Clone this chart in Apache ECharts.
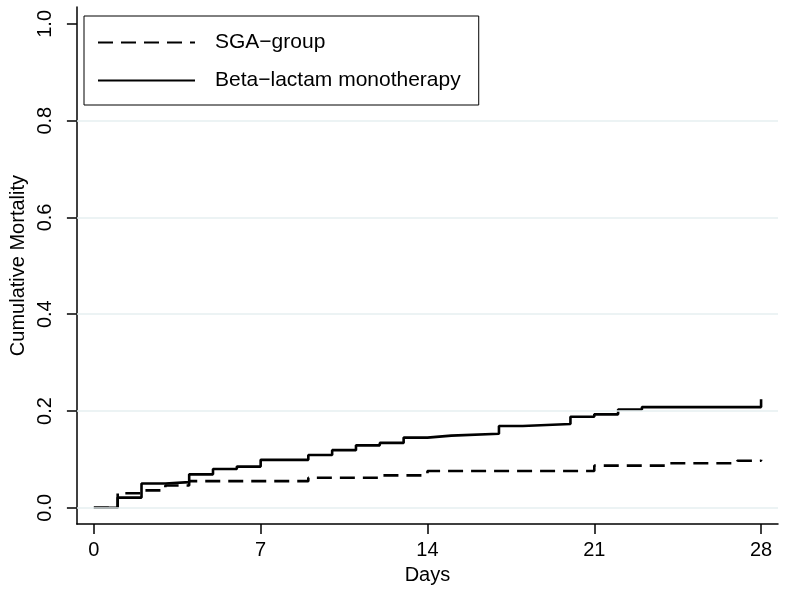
<!DOCTYPE html>
<html>
<head>
<meta charset="utf-8">
<script src="https://cdn.jsdelivr.net/npm/echarts@6/dist/echarts.min.js"></script>
<style>html,body{margin:0;padding:0;background:#fff}#c{width:789px;height:590px}</style>
</head>
<body>
<div id="c"></div>
<script>
const seriesNames = ['SGA\u2212group', 'Beta\u2212lactam monotherapy'];
const sgaDays = [0, 1, 2, 3, 4, 9, 12, 14, 21, 24, 27, 28];
const sgaValues = [0, 0.030, 0.036, 0.046, 0.055, 0.062, 0.067, 0.076, 0.087, 0.092, 0.097, 0.099];
const betaDays = [0, 1, 2, 3, 4, 5, 6, 7, 9, 10, 11, 12, 13, 14, 15, 17, 18, 20, 21, 22, 23, 28];
const betaValues = [0, 0.021, 0.050, 0.053, 0.069, 0.080, 0.085, 0.099, 0.109, 0.119, 0.129, 0.134, 0.145, 0.149, 0.153, 0.169, 0.173, 0.188, 0.193, 0.203, 0.208, 0.224];
const xTicks = [0, 7, 14, 21, 28];
const yTicks = [0, 0.2, 0.4, 0.6, 0.8, 1.0];
const yGridValues = [0, 0.2, 0.4, 0.6, 0.8];

const FONT = 'Liberation Sans, Arial, Helvetica, sans-serif';
const chart = echarts.init(document.getElementById('c'), null, {renderer: 'canvas'});
const pair = (xs, ys) => xs.map((x, i) => [x, ys[i]]);

chart.setOption({
  animation: false,
  backgroundColor: '#fff',
  grid: {left: 75, right: 11, top: 7, bottom: 62, containLabel: false},
  legend: {
    data: seriesNames,
    orient: 'vertical',
    left: 84, top: 16,
    padding: [16, 18, 14, 13],
    itemWidth: 97, itemHeight: 20, itemGap: 17,
    borderColor: '#000', borderWidth: 1, backgroundColor: '#fff',
    itemStyle: {opacity: 0},
    textStyle: {fontFamily: FONT, fontSize: 21, color: '#000', padding: [0, 0, 0, 15]},
    z: 10
  },
  xAxis: {
    type: 'value', min: -0.7115, max: 28.71,
    name: 'Days', nameLocation: 'middle', nameGap: 35,
    nameTextStyle: {fontFamily: FONT, fontSize: 20, color: '#000'},
    axisLine: {show: true, onZero: false, lineStyle: {color: '#000', width: 1.5}},
    axisTick: {show: true, length: 10, lineStyle: {color: '#000', width: 1.5}, customValues: xTicks},
    axisLabel: {fontFamily: FONT, fontSize: 20, color: '#000', margin: 16, customValues: xTicks, formatter: v => String(v)},
    splitLine: {show: false}
  },
  yAxis: {
    type: 'value', min: -0.0338, max: 1.0349,
    name: 'Cumulative Mortality', nameLocation: 'middle', nameGap: 36, nameRotate: 90,
    nameTextStyle: {fontFamily: FONT, fontSize: 20, color: '#000'},
    axisLine: {show: true, onZero: false, lineStyle: {color: '#000', width: 1.5}},
    axisTick: {show: true, length: 10, lineStyle: {color: '#000', width: 1.5}, customValues: yTicks},
    axisLabel: {fontFamily: FONT, fontSize: 20, color: '#000', margin: 21, rotate: 90, customValues: yTicks, formatter: v => v.toFixed(1)},
    splitLine: {show: false}
  },
  series: [
    {
      name: 'gridlines', type: 'line', data: [], silent: true, z: 1,
      markLine: {
        silent: true, symbol: ['none', 'none'], label: {show: false},
        lineStyle: {color: '#e6eff1', width: 1.5, type: 'solid'},
        emphasis: {disabled: true},
        data: yGridValues.map(v => ({yAxis: v}))
      }
    },
    {
      name: seriesNames[0], type: 'line', step: 'end', showSymbol: false, symbol: 'none', z: 3,
      data: pair(sgaDays, sgaValues),
      lineStyle: {color: '#000', width: 2.6, type: [15, 8]},
      itemStyle: {color: '#000'}
    },
    {
      name: seriesNames[1], type: 'line', step: 'end', showSymbol: false, symbol: 'none', z: 4,
      data: pair(betaDays, betaValues),
      lineStyle: {color: '#000', width: 2.6, type: 'solid'},
      itemStyle: {color: '#000'}
    }
  ]
});
</script>
</body>
</html>
